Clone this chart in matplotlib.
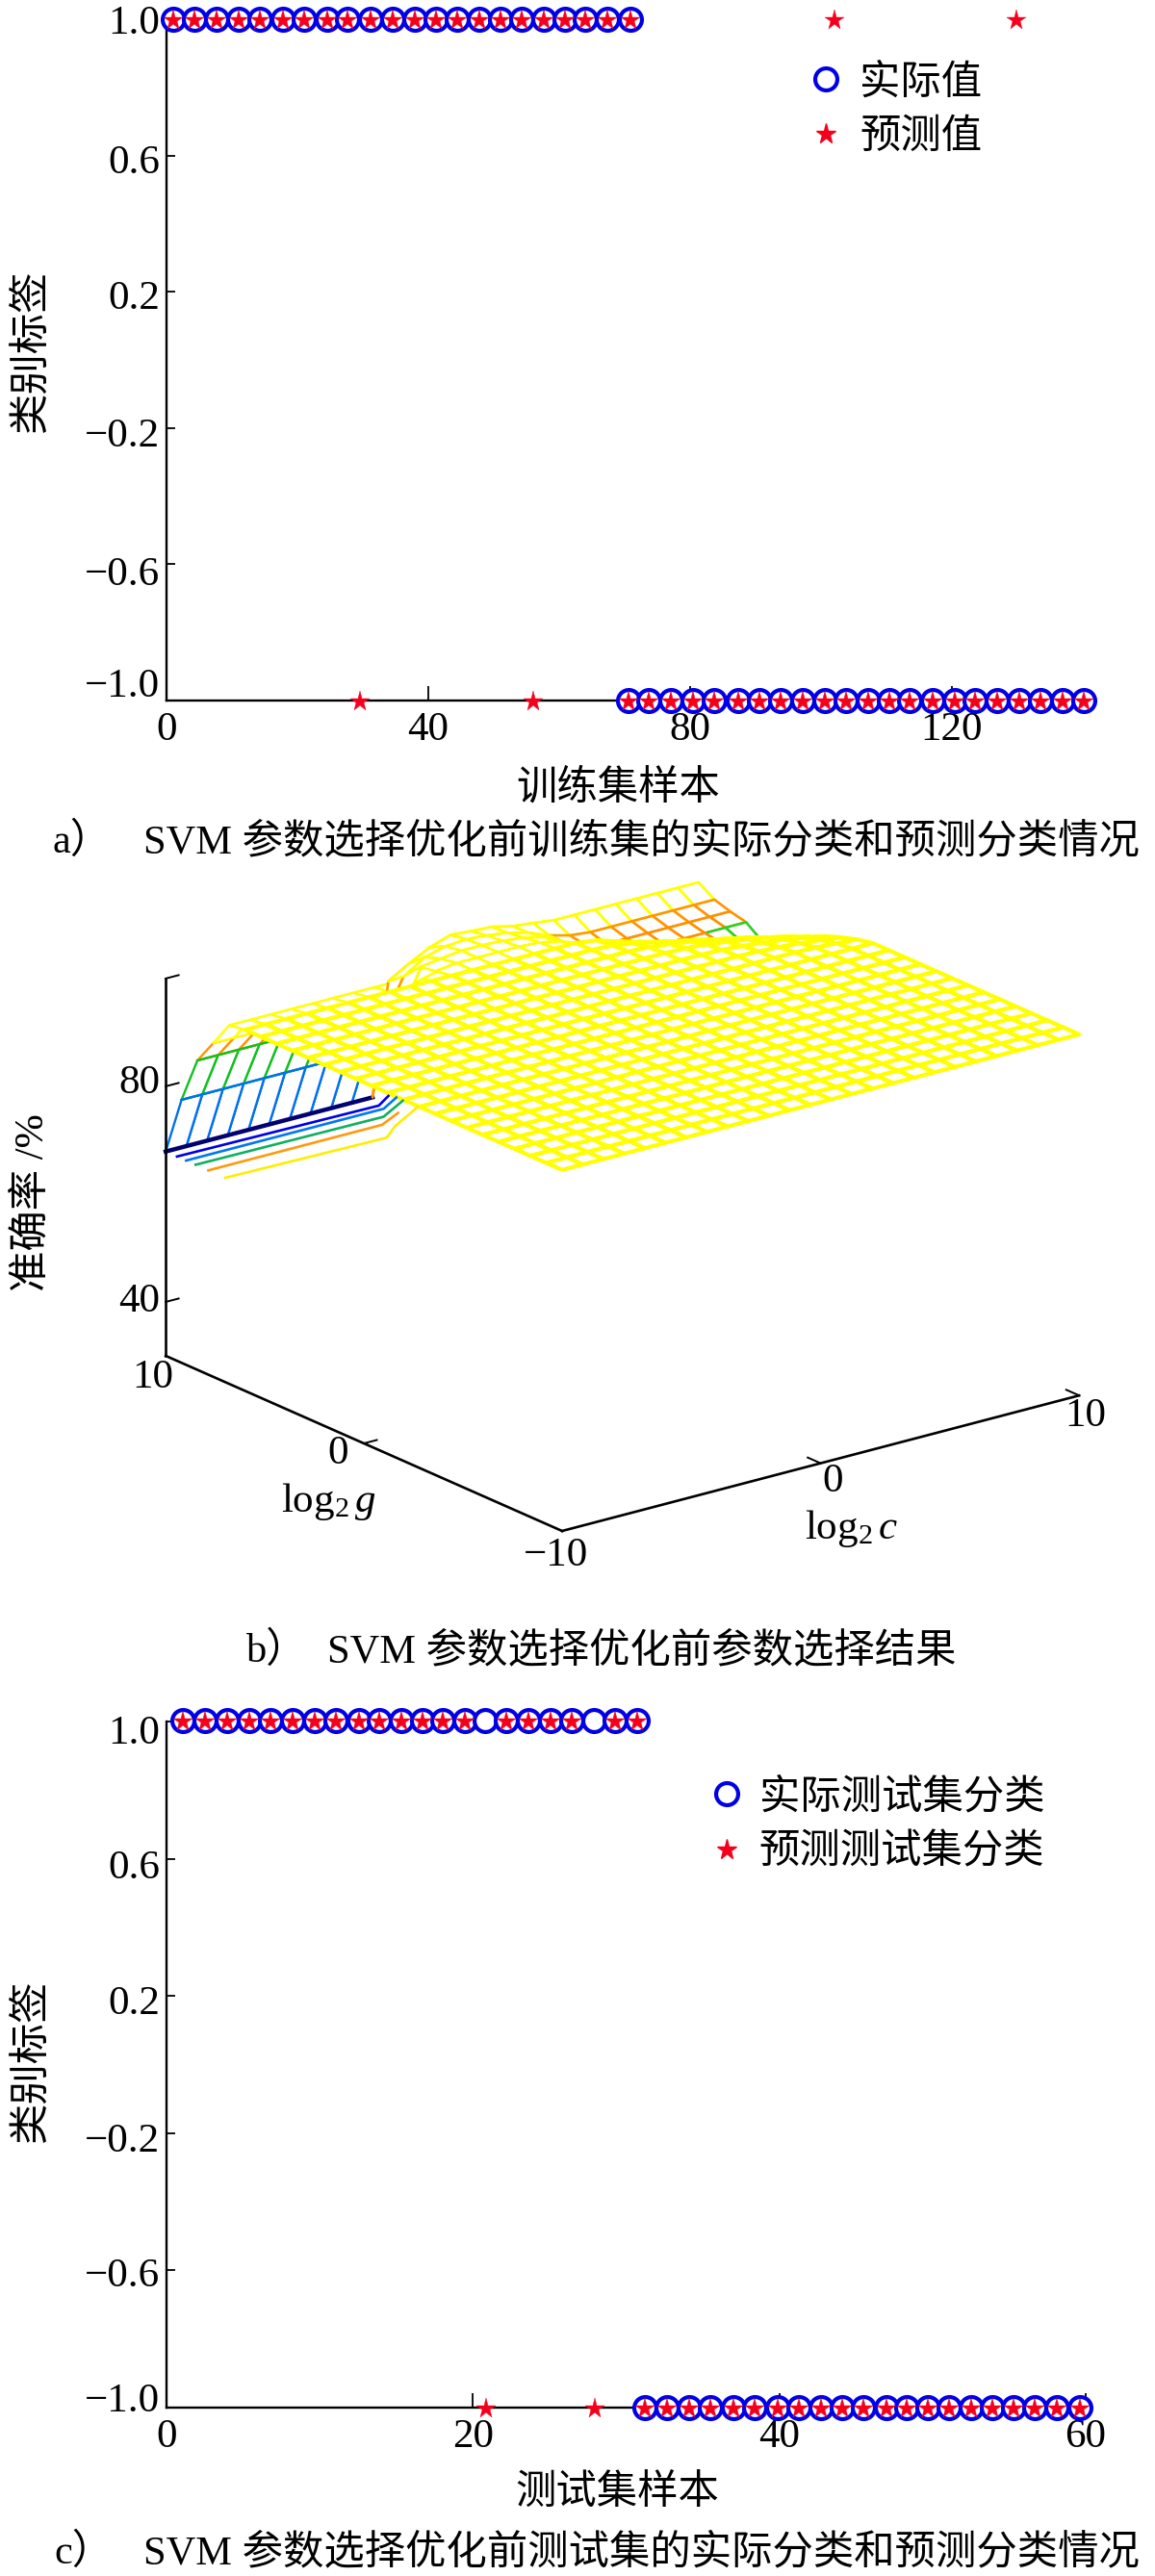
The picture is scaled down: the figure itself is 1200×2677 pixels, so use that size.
import numpy as np
import matplotlib
matplotlib.use('Agg')
import matplotlib.pyplot as plt
from matplotlib.lines import Line2D
from matplotlib.colors import LinearSegmentedColormap, Normalize
from matplotlib.transforms import Affine2D
from mpl_toolkits.mplot3d import proj3d

FONT = ['Liberation Serif', 'Noto Sans CJK SC']
plt.rcParams['font.family'] = FONT
plt.rcParams['axes.unicode_minus'] = True
plt.rcParams['mathtext.fontset'] = 'custom'
plt.rcParams['mathtext.rm'] = 'Liberation Serif'
plt.rcParams['mathtext.it'] = 'Liberation Serif:italic'

W, H = 1200, 2677

# ---------- panel a data ----------
a_actual_top_x = [1.0, 4.3, 7.7, 11.0, 14.3, 17.8, 21.1, 24.5, 27.7, 31.2, 34.5, 37.9, 41.2, 44.4, 47.8, 51.0,
                  54.2, 57.6, 60.9, 64.0, 67.4, 70.9]
a_actual_bot_x = [70.6, 73.7, 77.1, 80.5, 83.7, 87.3, 90.6, 93.8, 97.2, 100.6, 103.8, 107.2, 110.5, 113.6, 117.0,
                  120.4, 123.6, 126.9, 130.3, 133.5, 136.9, 140.2]
a_pred_extra_top_x = [102.0, 129.9]
a_pred_extra_bot_x = [29.5, 56.0]
a_xticks = [0, 40, 80, 120]

# ---------- panel c data ----------
c_actual_top_x = [1.06, 2.50, 3.94, 5.38, 6.77, 8.21, 9.65, 11.05, 12.54, 13.88, 15.32, 16.71, 18.06, 19.50, 20.80,
                  22.19, 23.63, 25.07, 26.42, 27.91, 29.30, 30.74]
c_pred_top_x = [1.06, 2.50, 3.94, 5.38, 6.77, 8.21, 9.65, 11.05, 12.54, 13.88, 15.32, 16.71, 18.06, 19.50,
                22.19, 23.63, 25.07, 26.42, 29.30, 30.74]
c_actual_bot_x = [31.2, 32.66, 34.1, 35.5, 37.0, 38.4, 39.9, 41.3, 42.7, 44.1, 45.5, 47.0, 48.3, 49.7, 51.1, 52.5,
                  53.9, 55.3, 56.7, 58.1, 59.6]
c_pred_extra_bot_x = [20.85, 27.95]
c_xticks = [0, 20, 40, 60]

y_ticks = [-1.0, -0.6, -0.2, 0.2, 0.6, 1.0]
y_tick_labels = ['\u22121.0', '\u22120.6', '\u22120.2', '0.2', '0.6', '1.0']

# ---------- panel b data: log2c, log2g grid and accuracy ----------
log2c = [-10.0, -9.2, -8.4, -7.6, -6.8, -6.0, -5.2, -4.4, -3.6, -2.8, -2.0, -1.2, -0.4,
         0.4, 1.2, 2.0, 2.8, 3.6, 4.4, 5.2, 6.0, 6.8, 7.6, 8.4, 9.2, 10.0]
log2g = [-10.0, -9.2, -8.4, -7.6, -6.8, -6.0, -5.2, -4.4, -3.6, -2.8, -2.0, -1.2, -0.4,
         0.4, 1.2, 2.0, 2.8, 3.6, 4.4, 5.2, 6.0, 6.8, 7.6, 8.4, 9.2, 10.0]
accuracy = [
 [97.0,97.0,97.0,97.0,97.0,97.0,97.0,97.0,97.0,97.0,97.0,97.0,97.0,97.0,97.0,97.0,97.0,97.0,97.0,97.0,97.0,97.0,97.0,97.0,97.0,97.0],
 [97.0,97.0,97.0,97.0,97.0,97.0,97.0,97.0,97.0,97.0,97.0,97.0,97.0,97.0,97.0,97.0,97.0,97.0,97.0,97.0,97.0,97.0,97.0,97.0,97.0,97.0],
 [97.0,97.0,97.0,97.0,97.0,97.0,97.0,97.0,97.0,97.0,97.0,97.0,97.0,97.0,97.0,97.0,97.0,97.0,97.0,97.0,97.0,97.0,97.0,97.0,97.0,97.0],
 [97.0,97.0,97.0,97.0,97.0,97.0,97.0,97.0,97.0,97.0,97.0,97.0,97.0,97.0,97.0,97.0,97.0,97.0,97.0,97.0,97.0,97.0,97.0,97.0,97.0,97.0],
 [97.0,97.0,97.0,97.0,97.0,97.0,97.0,97.0,97.0,97.0,97.0,97.0,97.0,97.0,97.0,97.0,97.0,97.0,97.0,97.0,97.0,97.0,97.0,97.0,97.0,97.0],
 [97.0,97.0,97.0,97.0,97.0,97.0,97.0,97.0,97.0,97.0,97.0,97.0,97.0,97.0,97.0,97.0,97.0,97.0,97.0,97.0,97.0,97.0,97.0,97.0,97.0,97.0],
 [97.0,97.0,97.0,97.0,97.0,97.0,97.0,97.0,97.0,97.0,97.0,97.0,97.0,97.0,97.0,97.0,97.0,97.0,97.0,97.0,97.0,97.0,97.0,97.0,97.0,97.0],
 [97.0,97.0,97.0,97.0,97.0,97.0,97.0,97.0,97.0,97.0,97.0,97.0,97.0,97.0,97.0,97.0,97.0,97.0,97.0,97.0,97.0,97.0,97.0,97.0,97.0,97.0],
 [97.0,97.0,97.0,97.0,97.0,97.0,97.0,97.0,97.0,97.0,97.0,97.0,97.0,97.0,97.0,97.0,97.0,97.0,97.0,97.0,97.0,97.0,97.0,97.0,97.0,97.0],
 [97.0,97.0,97.0,97.0,97.0,97.0,97.0,97.0,97.0,97.0,97.0,97.0,97.0,97.0,97.0,97.0,97.0,97.0,97.0,97.0,97.0,97.0,97.0,97.0,97.0,97.0],
 [97.0,97.0,97.0,97.0,97.0,97.0,97.0,97.0,97.0,97.0,97.0,97.0,97.0,97.0,97.0,97.0,97.0,97.0,97.0,97.0,97.0,97.0,97.0,97.0,97.0,97.0],
 [97.0,97.0,97.0,97.0,97.0,97.0,97.0,97.0,97.0,97.0,97.0,97.0,97.0,97.0,97.0,97.0,97.0,97.0,97.0,97.0,97.0,97.0,97.0,97.0,97.0,97.0],
 [97.0,97.0,97.0,97.0,97.0,97.0,97.0,97.0,97.0,97.0,97.0,97.0,97.0,97.0,97.0,97.0,97.0,97.0,97.0,97.0,97.0,97.0,97.0,97.0,97.0,97.0],
 [97.0,97.0,97.0,97.0,97.0,97.0,97.0,97.0,97.0,97.0,97.0,97.0,97.0,97.0,97.0,97.0,97.0,97.0,97.0,97.0,97.0,97.0,97.0,97.0,97.0,97.0],
 [97.0,97.0,97.0,97.0,97.0,97.0,97.0,97.0,97.0,97.0,97.0,97.0,97.0,97.0,97.0,97.0,97.0,97.0,97.0,97.0,97.0,97.0,97.0,96.9,96.7,96.4],
 [97.0,97.0,97.0,97.0,97.0,97.0,97.0,97.0,97.0,97.0,97.0,97.0,97.0,97.0,97.0,97.0,97.0,97.0,97.0,97.0,97.0,96.9,96.7,96.4,96.0,95.5],
 [97.0,97.0,97.0,97.0,97.0,97.0,97.0,97.0,97.0,97.0,97.0,97.0,97.0,97.0,97.0,97.0,97.0,97.0,97.0,97.0,96.9,96.6,96.2,95.8,95.1,94.4],
 [97.0,97.0,97.0,97.0,97.0,97.0,97.0,97.0,97.0,97.0,97.0,97.0,97.0,97.0,97.0,97.0,97.0,97.0,97.0,96.9,96.6,96.1,95.5,94.9,94.0,93.0],
 [97.0,97.0,97.0,97.0,97.0,97.0,97.0,97.0,97.0,97.0,97.0,97.0,97.0,97.0,97.0,97.0,97.0,97.0,96.8,96.4,95.8,95.2,94.4,93.6,92.6,91.5],
 [97.0,97.0,97.0,97.0,97.0,97.0,97.0,97.0,97.0,97.0,97.0,97.0,97.0,97.0,97.0,97.0,97.0,96.8,96.2,95.4,94.6,93.8,92.9,92.0,91.0,90.0],
 [97.0,97.0,97.0,97.0,97.0,97.0,97.0,97.0,97.0,97.0,97.0,97.0,97.0,97.0,97.0,97.0,97.0,96.5,95.3,94.2,93.2,92.3,91.0,90.0,89.2,88.3],
 [96.5,96.5,96.5,96.5,96.5,96.5,96.5,96.5,96.5,96.5,96.5,97.0,97.0,97.0,97.0,96.8,96.0,94.0,92.0,90.5,90.5,90.5,90.5,90.5,90.5,90.5],
 [91.9,91.9,91.9,91.9,91.9,91.9,91.9,91.9,91.9,91.9,96.0,96.5,97.0,97.0,96.8,96.4,95.5,93.5,92.0,91.2,91.2,91.2,91.2,91.2,91.2,91.2],
 [87.4,87.4,87.4,87.4,87.4,87.4,87.4,87.4,87.4,87.4,93.0,95.5,96.5,96.8,96.5,96.0,95.0,93.5,92.5,92.1,92.1,92.1,92.1,92.1,92.1,92.1],
 [78.8,78.8,78.8,78.8,78.8,78.8,78.8,78.8,78.8,78.8,90.7,93.0,95.0,96.3,96.0,95.8,94.9,94.5,94.0,94.0,94.0,94.0,94.0,94.0,94.0,94.0],
 [67.9,67.9,67.9,67.9,67.9,67.9,67.9,67.9,67.9,67.9,67.9,85.0,87.0,88.0,88.0,88.0,87.0,86.0,86.0,86.0,86.0,86.0,86.0,86.0,86.0,86.0],
]
# short rows below the surface's lower edge: log2c, log2g, accuracy stay at the floor level
low_row_c = [[-10.0, -2.3, -1.54], [-10.0, -2.36, -1.43], [-10.0, -2.8, -1.45], [-10.0, -3.28, -2.24], [-10.0, -3.87, -3.05, -1.45]]
low_row_g = [[9.43, 9.29, 9.8], [8.97, 8.97, 9.54], [8.49, 8.4, 9.19], [7.85, 7.85, 8.4], [7.0, 6.84, 7.5, 8.45]]
low_row_colors = ['#0000e6', '#0078f0', '#10b060', '#ff9a10', '#ffee00']
low_row_level = 67.9

surface_level_stops = [(67.9, '#000080'), (72.0, '#0000e0'), (78.8, '#0070f0'), (84.0, '#00a0a0'), (87.4, '#10c020'),
                       (90.6, '#30d020'), (91.0, '#ff9000'), (93.8, '#ffa000'), (94.0, '#ffff00'), (97.0, '#ffff00')]

fig = plt.figure(figsize=(W / 100, H / 100), dpi=100, facecolor='white')


def fx(x):
    return x / W


def fy(y):
    return 1 - y / H


def ftext(x, y, s, size=30.5, ha='center', va='center', rotation=0):
    return fig.text(fx(x), fy(y), s, fontsize=size, ha=ha, va=va, rotation=rotation, color='black', family=FONT)


def panel(left, right, top, bottom, xlim, xticks, dys, xpad):
    ax = fig.add_axes([fx(left), fy(bottom), (right - left) / W, (bottom - top) / H], facecolor='none')
    ax.set_xlim(*xlim)
    ax.set_ylim(-1, 1)
    for s in ('top', 'right'):
        ax.spines[s].set_visible(False)
    for s in ('left', 'bottom'):
        ax.spines[s].set_linewidth(1.7)
    ax.set_xticks(xticks)
    ax.set_yticks(y_ticks)
    ax.set_yticklabels(y_tick_labels)
    ax.tick_params(axis='x', direction='in', length=11, width=1.3, labelsize=31, pad=xpad)
    ax.tick_params(axis='y', direction='in', length=6.5, width=1.3, labelsize=31, pad=5)
    for lab, dy in zip(ax.get_yticklabels(), dys):
        lab.set_transform(lab.get_transform() + Affine2D().translate(0, -dy))
    return ax


def circles(ax, x, y):
    return ax.plot(x, y, 'o', ms=16.5, mfc='white', mec='#0000e6', mew=3, ls='none', clip_on=False, zorder=3)


def stars(ax, x, y):
    return ax.plot(x, y, '*', ms=15.5, mfc='#f5001c', mec='#f5001c', mew=0.3, ls='none', clip_on=False, zorder=4)


def legend(ax, x, y, labels, pad):
    hs = [Line2D([], [], marker='o', ms=16.5, mfc='white', mec='#0000e6', mew=3, ls='none'),
          Line2D([], [], marker='*', ms=15.5, mfc='#f5001c', mec='#f5001c', ls='none')]
    ax.legend(hs, labels, loc='center left', bbox_to_anchor=(fx(x), fy(y)), bbox_transform=fig.transFigure,
              frameon=False, prop={'family': FONT, 'size': 30.5}, handlelength=1.0, handletextpad=pad,
              labelspacing=0.43, borderpad=0, borderaxespad=0)


# ---------- panel a ----------
ax_a = panel(173, 1125, 20, 728, (0, 140), a_xticks, [-19, 7, 4, 3, 4, 0], 8)
circles(ax_a, a_actual_top_x, [1.0] * len(a_actual_top_x))
circles(ax_a, a_actual_bot_x, [-1.0] * len(a_actual_bot_x))
stars(ax_a, a_actual_top_x + a_pred_extra_top_x, [0.997] * (len(a_actual_top_x) + len(a_pred_extra_top_x)))
stars(ax_a, a_actual_bot_x + a_pred_extra_bot_x, [-1.003] * (len(a_actual_bot_x) + len(a_pred_extra_bot_x)))
legend(ax_a, 837, 115, ['实际值', '预测值'], 0.32)
ftext(34, 365, '类别标签', rotation=90)
ftext(642, 820, '训练集样本')
ftext(54, 875, 'a）', size=30.5, ha='left')
ftext(149, 875, 'SVM 参数选择优化前训练集的实际分类和预测分类情况', size=30.5, ha='left')

# ---------- panel c ----------
ax_c = panel(173, 1128, 1789, 2502, (0, 60), c_xticks, [-11, 2, 4, 4, 6, 8], 8)
circles(ax_c, c_actual_top_x, [1.004] * len(c_actual_top_x))
circles(ax_c, c_actual_bot_x, [-1.0] * len(c_actual_bot_x))
stars(ax_c, c_pred_top_x, [1.0] * len(c_pred_top_x))
stars(ax_c, c_actual_bot_x + c_pred_extra_bot_x, [-1.004] * (len(c_actual_bot_x) + len(c_pred_extra_bot_x)))
legend(ax_c, 734, 1897, ['实际测试集分类', '预测测试集分类'], 0.29)
ftext(34, 2142, '类别标签', rotation=90)
ftext(641, 2592, '测试集样本')
ftext(56, 2653, 'c）', size=30.5, ha='left')
ftext(149, 2653, 'SVM 参数选择优化前测试集的实际分类和预测分类情况', size=30.5, ha='left')

# ---------- panel b ----------
ax_b = fig.add_axes([fx(150), fy(1800), 1000 / W, 1000 / H], projection='3d', computed_zorder=False)
ax_b.set_proj_type('ortho')
ax_b.view_init(elev=19.9, azim=-127.6)
ax_b.set_box_aspect((678, 675, 417))
ax_b.set_xlim(-10, 10)
ax_b.set_ylim(-10, 10)
ax_b.set_zlim(30, 100)
ax_b.set_axis_off()
ax_b.patch.set_alpha(0)


def to_px(p):
    ax_b.apply_aspect()
    x, y, _ = proj3d.proj_transform(p[0], p[1], p[2], ax_b.get_proj())
    return ax_b.transData.transform((x, y))


# fit the box so that its three base corners land where the reference has them
for _ in range(3):
    pos = ax_b.get_position(original=True)
    left_c = to_px((-10, 10, 30))
    right_c = to_px((10, -10, 30))
    k = (1121 - 172) / (right_c[0] - left_c[0])
    new_w, new_h = pos.width * k, pos.height * k
    ax_b.set_position([pos.x0, pos.y0, new_w, new_h])
    front = to_px((-10, -10, 30))
    dx = (584 - front[0]) / W
    dy = ((H - 1591) - front[1]) / H
    ax_b.set_position([pos.x0 + dx, pos.y0 + dy, new_w, new_h])

C, G = np.meshgrid(np.array(log2c), np.array(log2g))
Z = np.array(accuracy)
norm = Normalize(surface_level_stops[0][0], surface_level_stops[-1][0])
cmap = LinearSegmentedColormap.from_list('levels', [(norm(v), col) for v, col in surface_level_stops])


def coloured_surface(rows, cols, lw, zorder):
    X, Y, S = C[np.ix_(rows, cols)], G[np.ix_(rows, cols)], Z[np.ix_(rows, cols)]
    white = np.ones(S.shape + (4,))
    surf = ax_b.plot_surface(X, Y, S, facecolors=white, rstride=1, cstride=1, shade=False, linewidth=lw,
                             antialiased=True, zorder=zorder)
    top = np.maximum.reduce([S[:-1, :-1], S[1:, :-1], S[:-1, 1:], S[1:, 1:]])
    surf.set_edgecolors(cmap(norm(top)).reshape(-1, 4))
    surf.set_facecolors(white[:-1, :-1].reshape(-1, 4))
    return surf


flank_rows = list(range(20, 26))
coloured_surface(flank_rows, list(range(0, 11)), 1.7, 1)
ax_b.plot(C[25, :11], G[25, :11], Z[25, :11], color='#000070', lw=3.2, zorder=1.5)
ax_b.plot(C[24, :10], G[24, :10], Z[24, :10], color='#0070f0', lw=1.7, zorder=1.5)
ax_b.plot(C[23, :10], G[23, :10], Z[23, :10], color='#10c020', lw=1.7, zorder=1.5)
coloured_surface(flank_rows, list(range(10, 26)), 1.9, 1.8)
ax_b.plot_surface(C[:21, :], G[:21, :], Z[:21, :], color='white', edgecolor='#ffff00', rstride=1, cstride=1,
                  shade=False, linewidth=3.0, zorder=2)
for xs, gs, col in zip(low_row_c, low_row_g, low_row_colors):
    ax_b.plot(xs, gs, [low_row_level] * len(xs), color=col, lw=1.9, zorder=3)

k_axis = dict(color='black', lw=1.9, zorder=5, solid_capstyle='projecting')
ax_b.plot([-10, 10], [-10, -10], [30, 30], **k_axis)
ax_b.plot([-10, -10], [-10, 10], [30, 30], **k_axis)
ax_b.plot([-10, -10], [10, 10], [30, 100], **k_axis)
tick_style = dict(color='black', lw=1.4, zorder=5)
for v in (0, 10):
    ax_b.plot([v, v], [-10, -9.35], [30, 30], **tick_style)
ax_b.plot([-10, -9.5], [0, 0], [30, 30], **tick_style)
for v in (40, 80, 100):
    ax_b.plot([-10, -9.5], [10, 10], [v, v], **tick_style)

ftext(145, 1126, '80', size=31)
ftext(145, 1353, '40', size=31)
ftext(159, 1432, '10', size=31)
ftext(351, 1511, '0', size=31)
ftext(577, 1617, '\u221210', size=31)
ftext(865, 1540, '0', size=31)
ftext(1128, 1472, '10', size=31)
ftext(341, 1561, r'$\mathrm{log}_2\,g$', size=31)
ftext(885, 1589, r'$\mathrm{log}_2\,c$', size=31)
ftext(34, 1250, '准确率 /%', rotation=90)
ftext(256, 1716, 'b）', size=30.5, ha='left')
ftext(340, 1716, 'SVM 参数选择优化前参数选择结果', size=30.5, ha='left')

fig.savefig('out.png', dpi=100, facecolor='white')
